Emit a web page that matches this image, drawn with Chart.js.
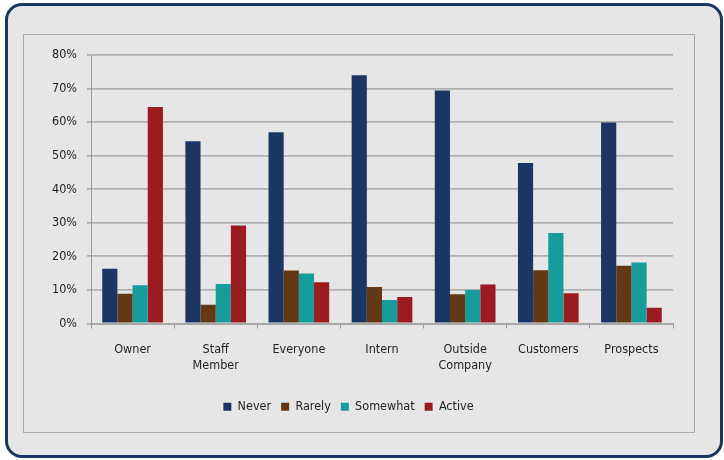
<!DOCTYPE html>
<html>
<head>
<meta charset="utf-8">
<script src="https://cdn.jsdelivr.net/npm/chart.js@4/dist/chart.umd.min.js"></script>
<style>
  body { margin: 0; background: #ffffff; width: 724px; height: 460px; overflow: hidden; position: relative; }
  #frame {
    position: absolute; left: 5px; top: 3px; width: 712px; height: 449px;
    border: 3px solid #1c3664; border-radius: 17px; background: #e6e6e6;
  }
  #plotBox {
    position: absolute; left: 23px; top: 34px; width: 670px; height: 397px;
    border: 1px solid #a9a9a9;
  }
  #wrap { position: absolute; left: 24px; top: 35px; width: 670px; height: 396px; }
</style>
</head>
<body>
<div id="frame"></div>
<div id="plotBox"></div>
<div id="wrap"><canvas id="chart" width="670" height="396"></canvas></div>
<script>
const categories = ['Owner', ['Staff', 'Member'], 'Everyone', 'Intern', ['Outside', 'Company'], 'Customers', 'Prospects'];
const never    = [16.3, 54.3, 57.0, 74.0, 69.4, 47.8, 59.9];
const rarely   = [8.9, 5.6, 15.8, 10.9, 8.7, 15.9, 17.2];
const somewhat = [11.4, 11.8, 14.9, 7.0, 10.0, 27.0, 18.2];
const active   = [64.5, 29.2, 12.3, 7.9, 11.6, 9.0, 4.7];
const yTicks = [0, 10, 20, 30, 40, 50, 60, 70, 80];

const fontFamily = '"DejaVu Sans Condensed", "DejaVu Sans", sans-serif';

function series(label, data, color) {
  return {
    label: label,
    data: data,
    backgroundColor: color,
    borderWidth: 0,
    barPercentage: 1.0,
    categoryPercentage: 0.73
  };
}

new Chart(document.getElementById('chart'), {
  type: 'bar',
  data: {
    labels: categories,
    datasets: [
      series('Never', never, '#1c3664'),
      series('Rarely', rarely, '#633815'),
      series('Somewhat', somewhat, '#159c9b'),
      series('Active', active, '#9c1b20')
    ]
  },
  options: {
    responsive: false,
    animation: false,
    layout: { padding: { top: 20, right: 21, bottom: 8, left: 0 } },
    plugins: {
      tooltip: { enabled: false },
      legend: {
        position: 'bottom',
        labels: {
          boxWidth: 8,
          boxHeight: 8,
          padding: 10,
          color: '#1f1f1f',
          font: { family: fontFamily, size: 12.5 }
        }
      }
    },
    scales: {
      x: {
        afterFit: s => { s.height = 67; },
        grid: {
          offset: true,
          drawOnChartArea: false,
          drawTicks: true,
          tickLength: 5,
          color: '#999999'
        },
        border: { display: true, color: '#a8a8a8', width: 2 },
        ticks: {
          padding: 13,
          color: '#1f1f1f',
          font: { family: fontFamily, size: 12.5, lineHeight: 1.3 },
          maxRotation: 0
        }
      },
      y: {
        min: 0,
        max: 80,
        afterFit: s => { s.width = 67; },
        afterBuildTicks: s => { s.ticks = yTicks.map(v => ({ value: v })); },
        grid: {
          color: '#b0b0b0',
          lineWidth: 1.8,
          tickLength: 4
        },
        border: { display: true, color: '#999999', width: 1 },
        ticks: {
          padding: 10,
          color: '#1f1f1f',
          font: { family: fontFamily, size: 12.5 },
          callback: v => v + '%'
        }
      }
    }
  }
});
</script>
</body>
</html>
